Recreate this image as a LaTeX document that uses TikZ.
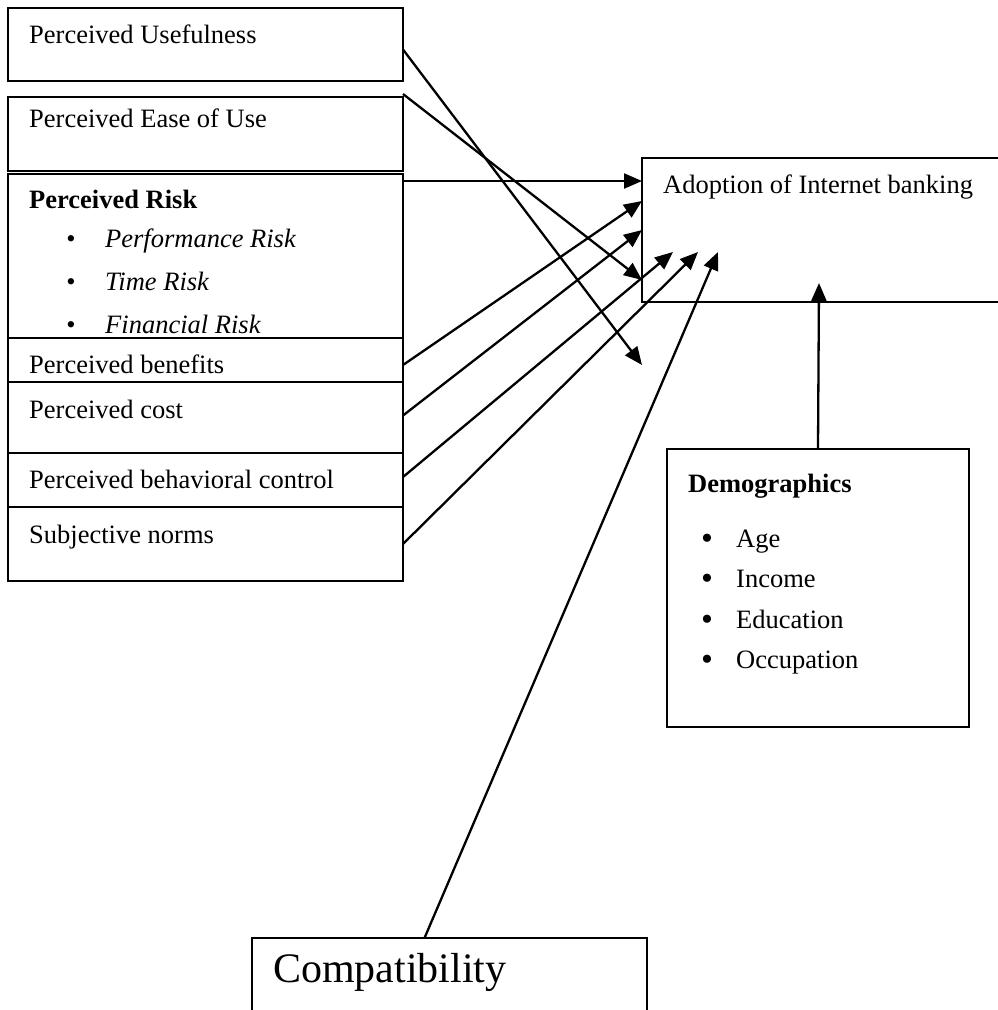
\documentclass[tikz,border=0pt]{standalone}
\usepackage{fontspec}
\setmainfont{Liberation Serif}
\usetikzlibrary{arrows.meta}
\tikzset{
	box/.style={draw, line width=1.5pt, inner sep=0pt, outer sep=0pt, anchor=north west},
	lbl/.style={inner sep=0pt, anchor=base west, font=\fontsize{26.5}{30}\selectfont},
	dot/.style={inner sep=0pt, anchor=base, font=\fontsize{26.5}{30}\selectfont},
	arr/.style={line width=2.3pt, -{Triangle[length=18pt, width=15pt]}}
}

\begin{document}
\begin{tikzpicture}[x=1pt, y=-1pt]
		\useasboundingbox (0,0) rectangle (997,1010);
		% left column
		\node[box, minimum width=395pt, minimum height=73pt] (PU) at (8,8) {};
		\node[box, minimum width=395pt, minimum height=74pt] (PE) at (8,97) {};
		\node[box, minimum width=395pt, minimum height=164pt] (PR) at (8,174) {};
		\node[box, minimum width=395pt, minimum height=44pt] (PB) at (8,338) {};
		\node[box, minimum width=395pt, minimum height=71pt] (PC) at (8,382) {};
		\node[box, minimum width=395pt, minimum height=54pt] (PBC) at (8,453) {};
		\node[box, minimum width=395pt, minimum height=74pt] (SN) at (8,507) {};
		\node[lbl] (tPU) at (29,43) {Perceived Usefulness};
		\node[lbl] (tPE) at (29,127) {Perceived Ease of Use};
		\node[lbl] (tPR) at (29,208) {\bfseries Perceived Risk};
		\node[dot] (b1) at (71,247) {•};
		\node[dot] (b2) at (71,290) {•};
		\node[dot] (b3) at (71,333) {•};
		\node[lbl] (tR1) at (105,247) {\itshape Performance Risk};
		\node[lbl] (tR2) at (105,290) {\itshape Time Risk};
		\node[lbl] (tR3) at (105,333) {\itshape Financial Risk};
		\node[lbl] (tPB) at (29,373) {Perceived benefits};
		\node[lbl] (tPC) at (29,418) {Perceived cost};
		\node[lbl] (tPBC) at (29,488) {Perceived behavioral control};
		\node[lbl] (tSN) at (29,543) {Subjective norms};
		% adoption
		\node[box, minimum width=380pt, minimum height=144pt] (AD) at (642,158) {};
		\node[lbl] (tAD) at (663,193) {Adoption of Internet banking};
		% demographics
		\node[box, minimum width=302pt, minimum height=278pt] (DM) at (667,449) {};
		\node[lbl] (tDM) at (688,492) {\bfseries Demographics};
		\node[dot, font=\fontsize{34}{36}\selectfont] (d1) at (707,549) {•};
		\node[dot, font=\fontsize{34}{36}\selectfont] (d2) at (707,589) {•};
		\node[dot, font=\fontsize{34}{36}\selectfont] (d3) at (707,630) {•};
		\node[dot, font=\fontsize{34}{36}\selectfont] (d4) at (707,670) {•};
		\node[lbl] (tD1) at (736,547) {Age};
		\node[lbl] (tD2) at (736,587) {Income};
		\node[lbl] (tD3) at (736,628) {Education};
		\node[lbl] (tD4) at (736,668) {Occupation};
		% compatibility
		\node[box, minimum width=395pt, minimum height=100pt] (CP) at (252,938) {};
		\node[lbl, font=\fontsize{42}{46}\selectfont] (tCP) at (273,982) {Compatibility};
		% arrow ends
		\coordinate (T1) at (642,365);
		\coordinate (T2) at (642,280);
		\coordinate (T3) at (642,181);
		\coordinate (T4) at (642,201);
		\coordinate (T5) at (642,230);
		\coordinate (T6) at (673,252);
		\coordinate (T7) at (698,252);
		\coordinate (T8) at (718,252);
		\coordinate (T9) at (819,283);
		\draw[arr] ([yshift=-5pt]PU.east) -- (T1);
		\draw[arr] ([yshift=3pt]PE.north east) -- (T2);
		\draw[arr] ([yshift=-7pt]PR.north east) -- (T3);
		\draw[arr] ([yshift=-5pt]PB.east) -- (T4);
		\draw[arr] ([yshift=2pt]PC.east) -- (T5);
		\draw[arr] ([yshift=3pt]PBC.east) -- (T6);
		\draw[arr] (SN.east) -- (T7);
		\draw[arr] ([xshift=-25pt]CP.north) -- (T8);
		\draw[arr] (DM.north) -- (T9);
	\end{tikzpicture}
\end{document}
